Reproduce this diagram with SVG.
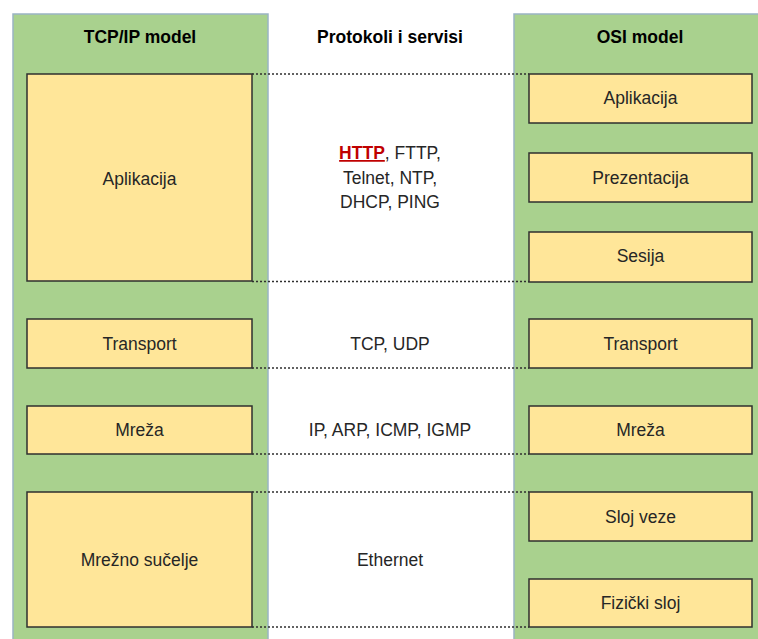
<svg xmlns="http://www.w3.org/2000/svg" width="758" height="639" viewBox="0 0 758 639">
<style>
.panel{fill:#a9d18e;stroke:#9ab4c4;stroke-width:1.5}
.box{fill:#ffe699;stroke:#2f2f2f;stroke-width:1.5}
.t{font-family:"Liberation Sans",Arial,sans-serif;font-size:17.5px;fill:#262626;text-anchor:middle}
.h{font-family:"Liberation Sans",Arial,sans-serif;font-size:17.5px;font-weight:bold;fill:#000;text-anchor:middle}
.dot{stroke:#2f2f2f;stroke-width:1.5;stroke-dasharray:2 2;fill:none}
</style>
<rect width="758" height="639" fill="#fff"/>
<g id="tcpip-panel">
<rect class="panel" x="13" y="14" width="255" height="640"/>
<text class="h" x="140" y="43">TCP/IP model</text>
</g>
<g id="osi-panel">
<rect class="panel" x="514" y="14" width="260" height="640"/>
<text class="h" x="640" y="43">OSI model</text>
</g>
<g id="protocols-title"><text class="h" x="390" y="43">Protokoli i servisi</text></g>
<g id="connectors">
<line class="dot" x1="252" y1="74" x2="529" y2="74"/>
<line class="dot" x1="252" y1="281.5" x2="529" y2="281.5"/>
<line class="dot" x1="252" y1="368" x2="529" y2="368"/>
<line class="dot" x1="252" y1="454" x2="529" y2="454"/>
<line class="dot" x1="252" y1="492" x2="529" y2="492"/>
<line class="dot" x1="252" y1="627" x2="529" y2="627"/>
</g>
<g id="tcp-aplikacija"><rect class="box" x="27" y="74" width="225" height="207"/><text class="t" x="139.5" y="185">Aplikacija</text></g>
<g id="tcp-transport"><rect class="box" x="27" y="319" width="225" height="49"/><text class="t" x="139.5" y="350">Transport</text></g>
<g id="tcp-mreza"><rect class="box" x="27" y="406" width="225" height="48"/><text class="t" x="139.5" y="436">Mreža</text></g>
<g id="tcp-mrezno-sucelje"><rect class="box" x="27" y="492" width="225" height="135"/><text class="t" x="139.5" y="566">Mrežno sučelje</text></g>
<g id="osi-aplikacija"><rect class="box" x="529" y="74" width="223" height="49"/><text class="t" x="640.5" y="104">Aplikacija</text></g>
<g id="osi-prezentacija"><rect class="box" x="529" y="153" width="223" height="49"/><text class="t" x="640.5" y="184">Prezentacija</text></g>
<g id="osi-sesija"><rect class="box" x="529" y="232" width="223" height="50"/><text class="t" x="640.5" y="262">Sesija</text></g>
<g id="osi-transport"><rect class="box" x="529" y="319" width="223" height="49"/><text class="t" x="640.5" y="350">Transport</text></g>
<g id="osi-mreza"><rect class="box" x="529" y="406" width="223" height="48"/><text class="t" x="640.5" y="436">Mreža</text></g>
<g id="osi-sloj-veze"><rect class="box" x="529" y="492" width="223" height="49"/><text class="t" x="640.5" y="523">Sloj veze</text></g>
<g id="osi-fizicki-sloj"><rect class="box" x="529" y="579" width="223" height="48"/><text class="t" x="640.5" y="609">Fizički sloj</text></g>
<g id="proto-app">
<text class="t" x="390" y="159"><tspan fill="#c00000" font-weight="bold" text-decoration="underline">HTTP</tspan>, FTTP,</text>
<text class="t" x="390" y="184">Telnet, NTP,</text>
<text class="t" x="390" y="208">DHCP, PING</text>
</g>
<g id="proto-transport"><text class="t" x="390" y="350">TCP, UDP</text></g>
<g id="proto-network"><text class="t" x="390" y="436">IP, ARP, ICMP, IGMP</text></g>
<g id="proto-link"><text class="t" x="390" y="566">Ethernet</text></g>
</svg>
